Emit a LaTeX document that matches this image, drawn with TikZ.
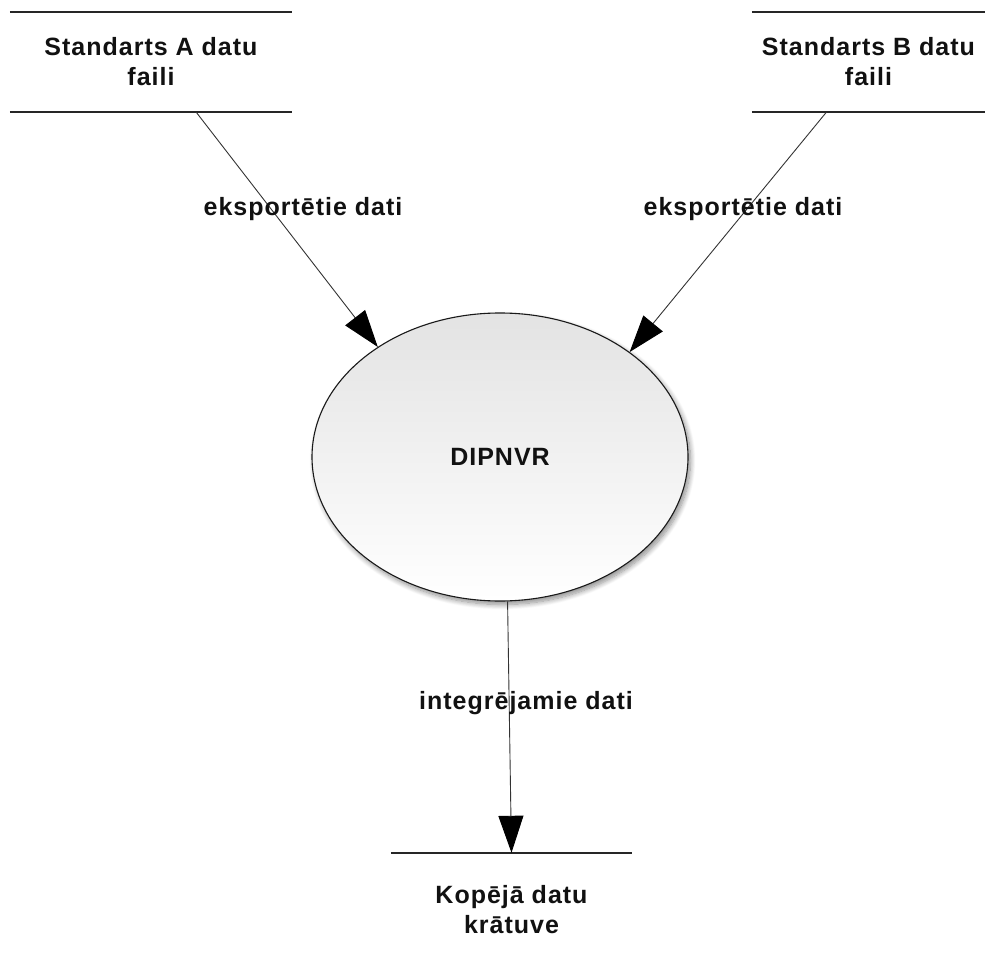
\documentclass[tikz,border=0pt]{standalone}
\usepackage{fontspec}
\setmainfont{Liberation Sans}[LetterSpace=4]
\usetikzlibrary{arrows.meta,shapes.geometric,shadows.blur}
\definecolor{txt}{HTML}{111111}
\begin{document}
\begin{tikzpicture}[x=1pt,y=-1pt,
  every node/.style={font=\fontsize{25}{30}\selectfont\bfseries, text=txt, align=center, inner sep=0pt},
  store/.style={rectangle, minimum height=100pt},
  storeline/.style={line width=1.5pt, draw=black!85},
  flow/.style={line width=0.9pt, draw=black!80, -{Triangle[length=37pt,width=25pt,color=black,fill=black]}},
  proc/.style={ellipse, draw=black!90, line width=1.1pt, minimum width=376pt, minimum height=288pt,
     top color=black!11, bottom color=white,
     blur shadow={shadow xshift=2.5pt, shadow yshift=-3.5pt, shadow blur steps=10, shadow blur radius=5pt, shadow opacity=45},
     path picture={
       \fill[white, opacity=0.35] (300,462) .. controls (420,425) and (560,412) .. (700,410) -- (700,620) -- (300,620) -- cycle;
     }},
  lbl/.style={}
]
\useasboundingbox (0,0) rectangle (985,968);

\node[store, minimum width=282pt] (A) at (151,62) {Standarts A datu\\faili};
\node[store, minimum width=233pt] (B) at (868.5,62) {Standarts B datu\\faili};
\node[proc] (P) at (500,457) {DIPNVR};
\node[rectangle, minimum width=241pt, minimum height=114pt] (C) at (511.5,910) {Kopējā datu\\krātuve};

\draw[storeline] (A.north west) -- (A.north east);
\draw[storeline] (A.south west) -- (A.south east);
\draw[storeline] (B.north west) -- (B.north east);
\draw[storeline] (B.south west) -- (B.south east);
\draw[storeline] (C.north west) -- (C.north east);

\draw[flow] (A.-48) -- (P.138.7);
\draw[flow] (B.-130.4) -- (P.39.4);
\draw[flow] (P.-87) -- (C.north);

\node[lbl] (l1) at (303,209) {eksportētie dati};
\node[lbl] (l2) at (743,209) {eksportētie dati};
\node[lbl] (l3) at (526,703) {integrējamie dati};
\end{tikzpicture}
\end{document}
